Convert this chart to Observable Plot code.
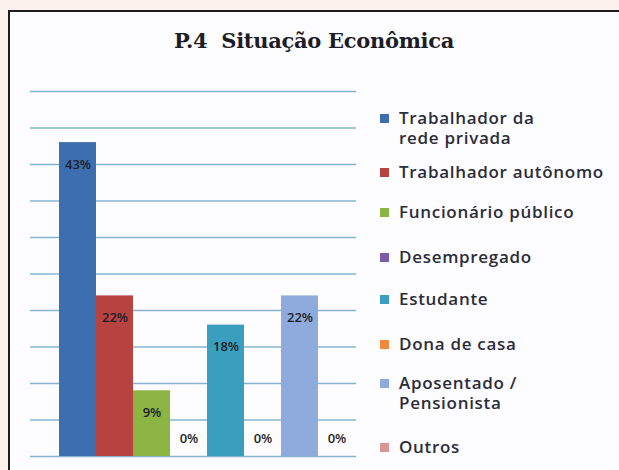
<!DOCTYPE html>
<html>
<head>
<meta charset="utf-8">
<script src="https://cdn.jsdelivr.net/npm/d3@7"></script>
<script src="https://cdn.jsdelivr.net/npm/@observablehq/plot@0.6"></script>
<style>
  html, body { margin: 0; padding: 0; }
  body { width: 619px; height: 470px; background: #fcf1ec; position: relative; overflow: hidden; }
  #frame { position: absolute; left: 8px; top: 10px; width: 620px; height: 470px; background: #fdfdff;
           border-left: 2.5px solid #1c1c22; border-top: 2.5px solid #1c1c22; box-sizing: border-box; }
  #title { position: absolute; left: 8px; top: 28px; width: 612px; text-align: center;
           font-family: "DejaVu Serif", serif; font-weight: bold; font-size: 21px; color: #1d1d28;
           letter-spacing: -0.3px; }
  #chart { position: absolute; left: 0; top: 0; }
  .lg { position: absolute; left: 380px; font-family: "Open Sans", sans-serif; font-size: 17px;
        font-weight: 600; letter-spacing: 0.7px; line-height: 20px; color: #2c2c3a; }
  .lg .sw { position: absolute; left: 0; top: 6px; width: 9px; height: 9px; }
  .lg .tx { position: absolute; left: 19px; top: 0; white-space: pre; }
</style>
</head>
<body>
<div id="frame"></div>
<div id="title">P.4&nbsp; Situação Econômica</div>
<div id="chart"></div>
<div id="legend"></div>
<script>
const categories = [
  "Trabalhador da rede privada",
  "Trabalhador autônomo",
  "Funcionário público",
  "Desempregado",
  "Estudante",
  "Dona de casa",
  "Aposentado / Pensionista",
  "Outros"
];
const legendLabels = [
  "Trabalhador da\nrede privada",
  "Trabalhador autônomo",
  "Funcionário público",
  "Desempregado",
  "Estudante",
  "Dona de casa",
  "Aposentado /\nPensionista",
  "Outros"
];
const values = [43, 22, 9, 0, 18, 0, 22, 0];
const colors = ["#3d6fb0", "#b8423f", "#8bb443", "#7a5da8", "#3a9fbf", "#f08a3a", "#8faadc", "#d99694"];
const gridValues = [0, 5, 10, 15, 20, 25, 30, 35, 40, 45, 50];
const legendTops = [108, 162, 202, 247, 289, 334, 373, 437];

const data = categories.map((c, i) => ({cat: c, v: values[i]}));

const chart = Plot.plot({
  width: 619,
  height: 470,
  marginLeft: 30,
  marginRight: 263,
  marginTop: 91,
  marginBottom: 14,
  x: {domain: categories, range: [57.5, 356], padding: 0, axis: null},
  y: {domain: [0, 50], axis: null},
  color: {domain: categories, range: colors},
  style: {background: "transparent", overflow: "visible"},
  marks: [
    Plot.ruleY(gridValues, {stroke: "#86b4cf", strokeWidth: 1.3}),
    Plot.barY(data, {x: "cat", y: "v", fill: "cat", insetLeft: 0, insetRight: 0}),
    Plot.text(data.filter(d => d.v > 0), {x: "cat", y: "v", text: d => d.v + "%", dy: 22,
      fill: "#1e1e2a", fontSize: 13, fontWeight: 600, fontFamily: "Open Sans"}),
    Plot.text(data.filter(d => d.v === 0), {x: "cat", y: "v", text: d => d.v + "%", dy: -18,
      fill: "#1e1e2a", fontSize: 13, fontWeight: 600, fontFamily: "Open Sans"})
  ]
});
document.getElementById("chart").appendChild(chart);

const legend = document.getElementById("legend");
legendLabels.forEach((lab, i) => {
  const row = document.createElement("div");
  row.className = "lg";
  row.style.top = legendTops[i] + "px";
  const sw = document.createElement("div");
  sw.className = "sw";
  sw.style.background = colors[i];
  const tx = document.createElement("div");
  tx.className = "tx";
  tx.textContent = lab;
  row.appendChild(sw);
  row.appendChild(tx);
  legend.appendChild(row);
});
</script>
</body>
</html>
